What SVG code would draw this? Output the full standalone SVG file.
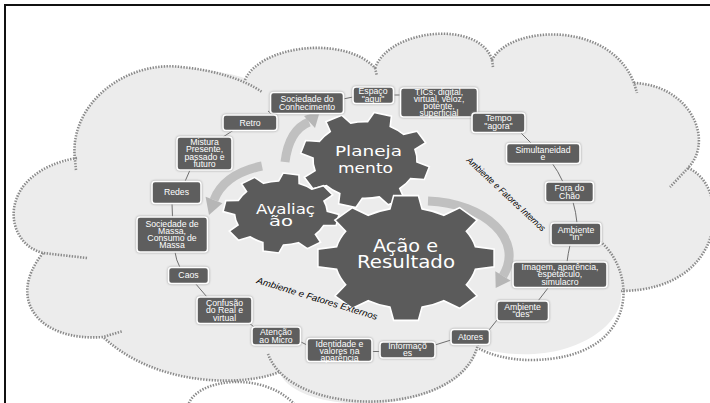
<svg xmlns="http://www.w3.org/2000/svg" width="710" height="403" viewBox="0 0 710 403">
<style>
.lobe{fill:none;stroke:#8a8a8a;stroke-width:2.6;stroke-dasharray:1.4 1.4}
.nb{fill:#5e5e5e;stroke:#fff;stroke-width:1.6;filter:drop-shadow(0 0 1px #9a9a9a)}
.t{font-family:"Liberation Sans",Arial,sans-serif;font-size:8.7px;fill:#fff;text-anchor:middle}
.g{fill:#5b5b5b;stroke:#fff;stroke-width:1.6}
.gt{font-family:"DejaVu Sans",Verdana,sans-serif;fill:#fff}
.conn{fill:none;stroke:#6e6e6e;stroke-width:1}
.arr{fill:none;stroke:#c0c0c0;stroke-width:9}
.ah{fill:#b6b6b6}
.lab{font-family:"Liberation Sans",Arial,sans-serif;font-style:italic;font-size:9px;fill:#000}
</style>
<defs>
<path id="gear" vector-effect="non-scaling-stroke" d="M-0.180,-0.7795 L-0.139,-0.990 L0.139,-0.990 L0.180,-0.7795 A0.8 0.8 0 0 1 0.424,-0.678 L0.602,-0.799 L0.799,-0.602 L0.678,-0.424 A0.8 0.8 0 0 1 0.7795,-0.180 L0.990,-0.139 L0.990,0.139 L0.7795,0.180 A0.8 0.8 0 0 1 0.678,0.424 L0.799,0.602 L0.602,0.799 L0.424,0.678 A0.8 0.8 0 0 1 0.180,0.7795 L0.139,0.990 L-0.139,0.990 L-0.180,0.7795 A0.8 0.8 0 0 1 -0.424,0.678 L-0.602,0.799 L-0.799,0.602 L-0.678,0.424 A0.8 0.8 0 0 1 -0.7795,0.180 L-0.990,0.139 L-0.990,-0.139 L-0.7795,-0.180 A0.8 0.8 0 0 1 -0.678,-0.424 L-0.799,-0.602 L-0.602,-0.799 L-0.424,-0.678 A0.8 0.8 0 0 1 -0.180,-0.7795 Z"/>
</defs>
<rect width="710" height="403" fill="#fff"/>
<path d="M5,403 V5 H710" fill="none" stroke="#111" stroke-width="2"/>

<g id="cloud">
<path fill="#ececec" d="M43,253 C2,243 -4,172 75,160 C68,105 125,60 181,67 C210,70 235,74 247,79 C260,45 345,35 375,68 C390,28 480,20 492,60 C510,25 610,20 634,83 C690,85 715,140 688,168 C730,185 730,290 621,291 C625,330 560,370 478,348 C462,415 300,420 279,372 C250,385 160,390 103,337 C40,342 5,300 43,253 Z"/>
<path class="lobe" d="M87,258 L43,253 C2,243 -4,172 77,158"/>
<path class="lobe" d="M76,170 L75,160 C68,105 125,60 181,67 C215,70 245,80 262,92"/>
<path class="lobe" d="M245,80 C260,45 345,35 375,68 L377,76"/>
<path class="lobe" d="M375,68 C390,28 480,20 492,60 L493,67"/>
<path class="lobe" d="M492,60 C510,25 610,20 634,83 L637,93"/>
<path class="lobe" d="M634,83 C690,85 715,140 688,168 L670,187"/>
<path class="lobe" d="M688,168 C730,185 730,290 621,291"/>
<path class="lobe" d="M596,238 C640,270 640,360 530,360 C510,360 490,355 478,348"/>
<path class="lobe" d="M478,344 C462,418 292,420 268,354"/>
<path class="lobe" d="M279,372 C250,385 160,390 103,337"/>
<path class="lobe" d="M43,253 C5,300 40,342 103,337 L123,331"/>
<path class="lobe" d="M188,406 C195,378 265,370 296,406"/>
</g>

<g id="connectors">
<path class="conn" d="M268,111 L273,115"/>
<path class="conn" d="M343,99 L353,97"/>
<path class="conn" d="M393,95 L401,95"/>
<path class="conn" d="M520,132 L531,143"/>
<path class="conn" d="M552,163 Q558,171 563,182"/>
<path class="conn" d="M573,202 Q576,212 577,223"/>
<path class="conn" d="M570,245 Q568,254 567,262"/>
<path class="conn" d="M548,288 L538,301"/>
<path class="conn" d="M497,320 L489,330"/>
<path class="conn" d="M451,340 L435,345"/>
<path class="conn" d="M380,351.5 L372,351.5"/>
<path class="conn" d="M307,345 L300,341.5"/>
<path class="conn" d="M248,322 L254,327"/>
<path class="conn" d="M207,297 L195,283"/>
<path class="conn" d="M180,267.5 Q176,260 175,252"/>
<path class="conn" d="M172.5,217 L172,203.5"/>
<path class="conn" d="M185,181.5 L190,170"/>
<path class="conn" d="M223,137 L233,130.5"/>
</g>

<g id="arrows">
<path class="arr" d="M285,162 Q289,130 309,122"/>
<polygon class="ah" points="304,116 320,111 315,128"/>
<path class="arr" d="M262,166 Q224,174 214,200"/>
<polygon class="ah" points="222.4,203.2 205.6,196.8 209,215"/>
<path class="arr" d="M428,201 C485,203 525,240 503,276"/>
<polygon class="ah" points="510.7,280.7 495.3,271.3 495.7,288"/>
</g>

<g id="gear-planejamento">
<use href="#gear" class="g" transform="translate(365,160) scale(65,48) rotate(16)"/>
<text class="gt" x="335" y="156" font-size="14" textLength="67" lengthAdjust="spacingAndGlyphs">Planeja</text>
<text class="gt" x="338" y="173" font-size="14" textLength="55" lengthAdjust="spacingAndGlyphs">mento</text>
</g>
<g id="gear-avaliacao">
<use href="#gear" class="g" transform="translate(281,213) scale(58,40) rotate(10)"/>
<text class="gt" x="256" y="214" font-size="14" textLength="59" lengthAdjust="spacingAndGlyphs">Avaliaç</text>
<text class="gt" x="269" y="226" font-size="14" textLength="24" lengthAdjust="spacingAndGlyphs">ão</text>
</g>
<g id="gear-acao">
<use href="#gear" class="g" transform="translate(406,258) scale(89,63)"/>
<text class="gt" x="373" y="252" font-size="17" textLength="65" lengthAdjust="spacingAndGlyphs">Ação e</text>
<text class="gt" x="357" y="268" font-size="17" textLength="98" lengthAdjust="spacingAndGlyphs">Resultado</text>
</g>

<text class="lab" transform="translate(466,161) rotate(43)" textLength="104" lengthAdjust="spacingAndGlyphs">Ambiente e Fatores Internos</text>
<text class="lab" transform="translate(256,283) rotate(17)" textLength="126" lengthAdjust="spacingAndGlyphs">Ambiente e Fatores Externos</text>

<g id="n-soc-conhecimento"><rect class="nb" x="270.5" y="92.5" width="73" height="21" rx="3"/><text class="t" x="307" y="101.5">Sociedade do</text><text class="t" x="307" y="109.5">Conhecimento</text></g>
<g id="n-espaco"><rect class="nb" x="353" y="87" width="40.5" height="16.5" rx="3"/><text class="t" x="373" y="94">Espaço</text><text class="t" x="373" y="101.5">"aqui"</text></g>
<g id="n-tics"><rect class="nb" x="400.5" y="88" width="77" height="29" rx="3"/><text class="t" x="439" y="94.5">TICs: digital,</text><text class="t" x="439" y="101.5">virtual, veloz,</text><text class="t" x="439" y="108.5">potente,</text><text class="t" x="439" y="115.5">superficial</text></g>
<g id="n-tempo"><rect class="nb" x="472" y="113" width="53" height="19.5" rx="3"/><text class="t" x="498.5" y="121">Tempo</text><text class="t" x="498.5" y="128.5">"agora"</text></g>
<g id="n-simult"><rect class="nb" x="506.5" y="143.5" width="73.5" height="20" rx="3"/><text class="t" x="543" y="152.5">Simultaneidad</text><text class="t" x="543" y="160">e</text></g>
<g id="n-fora"><rect class="nb" x="545.5" y="182" width="48" height="20" rx="3"/><text class="t" x="569.5" y="191">Fora do</text><text class="t" x="569.5" y="198.5">Chão</text></g>
<g id="n-amb-in"><rect class="nb" x="551" y="223" width="50" height="22" rx="3"/><text class="t" x="576" y="233">Ambiente</text><text class="t" x="576" y="240">"in"</text></g>
<g id="n-imagem"><rect class="nb" x="513" y="262" width="94" height="25.5" rx="3"/><text class="t" x="560" y="269.5">Imagem, aparência,</text><text class="t" x="560" y="277">espetáculo,</text><text class="t" x="560" y="284.5">simulacro</text></g>
<g id="n-amb-des"><rect class="nb" x="497" y="301" width="51.5" height="20" rx="3"/><text class="t" x="522.5" y="309.5">Ambiente</text><text class="t" x="522.5" y="316.5">"des"</text></g>
<g id="n-atores"><rect class="nb" x="451" y="329.5" width="38.5" height="15" rx="3"/><text class="t" x="470.5" y="340">Atores</text></g>
<g id="n-informacoes"><rect class="nb" x="380" y="342" width="55" height="16" rx="3"/><text class="t" x="407.5" y="349">Informaçõ</text><text class="t" x="407.5" y="356">es</text></g>
<g id="n-identidade"><rect class="nb" x="307" y="338.5" width="65" height="23" rx="3"/><text class="t" x="339.5" y="347">Identidade e</text><text class="t" x="339.5" y="354">valores na</text><text class="t" x="339.5" y="360.5">aparência</text></g>
<g id="n-atencao"><rect class="nb" x="252" y="327" width="48.5" height="18" rx="3"/><text class="t" x="276" y="335">Atenção</text><text class="t" x="276" y="342.5">ao Micro</text></g>
<g id="n-confusao"><rect class="nb" x="197" y="297" width="55" height="26.5" rx="3"/><text class="t" x="224.5" y="306">Confusão</text><text class="t" x="224.5" y="313.3">do Real e</text><text class="t" x="224.5" y="320.5">virtual</text></g>
<g id="n-caos"><rect class="nb" x="168.5" y="267.5" width="40" height="16" rx="3"/><text class="t" x="188.5" y="278">Caos</text></g>
<g id="n-soc-massa"><rect class="nb" x="137" y="217" width="70.5" height="35" rx="3"/><text class="t" x="172" y="226.5">Sociedade de</text><text class="t" x="172" y="233.5">Massa,</text><text class="t" x="172" y="240.5">Consumo  de</text><text class="t" x="172" y="247.5">Massa</text></g>
<g id="n-redes"><rect class="nb" x="152" y="181.5" width="49" height="22" rx="3"/><text class="t" x="176.5" y="195">Redes</text></g>
<g id="n-mistura"><rect class="nb" x="177" y="137" width="55" height="33" rx="3"/><text class="t" x="204.5" y="145">Mistura</text><text class="t" x="204.5" y="152">Presente,</text><text class="t" x="204.5" y="159.5">passado e</text><text class="t" x="204.5" y="167">futuro</text></g>
<g id="n-retro"><rect class="nb" x="223" y="115" width="54" height="15.5" rx="3"/><text class="t" x="250" y="125.5">Retro</text></g>
</svg>
